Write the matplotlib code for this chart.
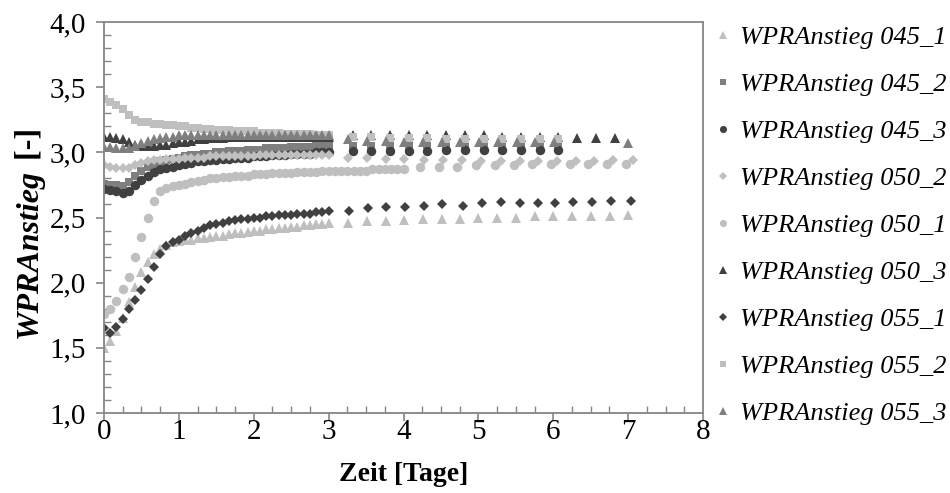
import numpy as np
import matplotlib
matplotlib.use("Agg")
import matplotlib.pyplot as plt
from matplotlib.ticker import MultipleLocator, FuncFormatter

plt.rcParams['font.family'] = ['Liberation Serif', 'DejaVu Serif']

# readings every 2 hours during the first days (converted to days)
hours_dense = np.arange(0, 73, 2)
days_dense = hours_dense / 24.0
hours_dense_long = np.arange(0, 97, 2)
days_dense_long = hours_dense_long / 24.0

# --- 045 series ---
v_045_1_dense = [1.50, 1.55, 1.63, 1.73, 1.85, 1.97, 2.08, 2.16, 2.22, 2.26,
                 2.29, 2.31, 2.32, 2.33, 2.33, 2.34, 2.34, 2.35, 2.36, 2.36,
                 2.37, 2.38, 2.38, 2.39, 2.40, 2.40, 2.41, 2.41, 2.42, 2.42,
                 2.43, 2.43, 2.44, 2.44, 2.45, 2.45, 2.46]
t_045_1_sparse = [3.26, 3.51, 3.76, 4.01, 4.26, 4.51, 4.76, 5.00, 5.25, 5.50,
                  5.76, 6.00, 6.25, 6.50, 6.76, 7.00]
v_045_1_sparse = [2.46, 2.47, 2.47, 2.48, 2.49, 2.49, 2.49, 2.50, 2.50, 2.50,
                  2.51, 2.51, 2.51, 2.51, 2.51, 2.52]

v_045_2_dense = [2.76, 2.75, 2.75, 2.74, 2.77, 2.82, 2.86, 2.89, 2.91, 2.93,
                 2.94, 2.95, 2.96, 2.97, 2.98, 2.98, 2.99, 2.99, 3.00, 3.00,
                 3.01, 3.01, 3.01, 3.02, 3.02, 3.02, 3.03, 3.03, 3.03, 3.03,
                 3.04, 3.04, 3.04, 3.04, 3.05, 3.05, 3.05]
t_045_sparse = [3.32, 3.57, 3.82, 4.07, 4.32, 4.57, 4.82, 5.07, 5.32, 5.57,
                5.82, 6.07]
v_045_2_sparse = [3.05, 3.05, 3.05, 3.05, 3.06, 3.06, 3.06, 3.06, 3.06, 3.06,
                  3.06, 3.06]

v_045_3_dense = [2.72, 2.71, 2.70, 2.69, 2.70, 2.75, 2.79, 2.82, 2.85, 2.87,
                 2.88, 2.89, 2.90, 2.91, 2.92, 2.93, 2.93, 2.94, 2.94, 2.95,
                 2.95, 2.96, 2.96, 2.96, 2.97, 2.97, 2.97, 2.98, 2.98, 2.98,
                 2.99, 2.99, 2.99, 2.99, 3.00, 3.00, 3.00]
v_045_3_sparse = [3.01, 3.01, 3.01, 3.01, 3.01, 3.02, 3.02, 3.02, 3.02, 3.02,
                  3.02, 3.02]

# --- 050 series ---
v_050_2_dense = [2.90, 2.89, 2.88, 2.88, 2.88, 2.90, 2.92, 2.93, 2.94, 2.94,
                 2.95, 2.95, 2.95, 2.96, 2.96, 2.96, 2.96, 2.97, 2.97, 2.97,
                 2.97, 2.97, 2.97, 2.97, 2.97, 2.98, 2.98, 2.98, 2.98, 2.98,
                 2.98, 2.98, 2.98, 2.98, 2.98, 2.98, 2.98]
t_050_2_sparse = [3.26, 3.51, 3.76, 4.01, 4.28, 4.53, 4.78, 5.04, 5.30, 5.55,
                  5.80, 6.05, 6.30, 6.55, 6.80, 7.06]
v_050_2_sparse = [2.96, 2.96, 2.95, 2.95, 2.94, 2.94, 2.94, 2.93, 2.93, 2.93,
                  2.93, 2.93, 2.93, 2.93, 2.94, 2.94]

v_050_1_dense = [1.76, 1.80, 1.86, 1.95, 2.04, 2.20, 2.35, 2.50, 2.63, 2.70,
                 2.73, 2.74, 2.75, 2.76, 2.77, 2.78, 2.79, 2.80, 2.80, 2.81,
                 2.81, 2.82, 2.82, 2.82, 2.83, 2.83, 2.83, 2.84, 2.84, 2.84,
                 2.84, 2.85, 2.85, 2.85, 2.85, 2.86, 2.86, 2.86, 2.86, 2.86,
                 2.86, 2.86, 2.86, 2.87, 2.87, 2.87, 2.87, 2.87, 2.87]
t_050_1_sparse = [4.22, 4.47, 4.72, 4.97, 5.22, 5.47, 5.72, 5.97, 6.22, 6.47,
                  6.72, 6.97]
v_050_1_sparse = [2.89, 2.89, 2.89, 2.90, 2.90, 2.90, 2.91, 2.91, 2.91, 2.91,
                  2.91, 2.91]

v_050_3_dense = [3.12, 3.12, 3.11, 3.10, 3.08, 3.06, 3.05, 3.05, 3.05, 3.06,
                 3.06, 3.07, 3.08, 3.08, 3.09, 3.10, 3.10, 3.11, 3.11, 3.11,
                 3.12, 3.12, 3.12, 3.12, 3.12, 3.12, 3.12, 3.12, 3.12, 3.12,
                 3.12, 3.12, 3.12, 3.12, 3.12, 3.12, 3.12]
t_050_3_sparse = [3.32, 3.57, 3.82, 4.07, 4.32, 4.57, 4.82, 5.07, 5.32, 5.57,
                  5.82, 6.07, 6.32, 6.57, 6.82]
v_050_3_sparse = [3.13, 3.13, 3.13, 3.13, 3.13, 3.13, 3.13, 3.13, 3.12, 3.12,
                  3.12, 3.12, 3.11, 3.11, 3.11]

# --- 055 series ---
v_055_1_dense = [1.65, 1.61, 1.66, 1.72, 1.80, 1.87, 1.94, 2.03, 2.12, 2.22,
                 2.28, 2.31, 2.33, 2.36, 2.38, 2.40, 2.42, 2.44, 2.45, 2.46,
                 2.47, 2.48, 2.49, 2.49, 2.50, 2.50, 2.51, 2.51, 2.52, 2.52,
                 2.52, 2.53, 2.53, 2.53, 2.54, 2.54, 2.55]
t_055_1_sparse = [3.27, 3.52, 3.77, 4.02, 4.27, 4.52, 4.80, 5.05, 5.30, 5.55,
                  5.80, 6.02, 6.27, 6.52, 6.77, 7.04]
v_055_1_sparse = [2.55, 2.57, 2.58, 2.58, 2.59, 2.60, 2.59, 2.61, 2.62, 2.61,
                  2.61, 2.61, 2.62, 2.62, 2.63, 2.63]

v_055_2_dense = [3.41, 3.39, 3.36, 3.33, 3.29, 3.25, 3.23, 3.23, 3.22, 3.22,
                 3.21, 3.21, 3.20, 3.20, 3.19, 3.19, 3.18, 3.18, 3.17, 3.17,
                 3.17, 3.16, 3.16, 3.16, 3.16, 3.15, 3.15, 3.15, 3.15, 3.14,
                 3.14, 3.14, 3.14, 3.14, 3.13, 3.13, 3.13]
v_055_2_sparse = [3.12, 3.12, 3.11, 3.11, 3.11, 3.10, 3.10, 3.10, 3.10, 3.10,
                  3.10, 3.10]

v_055_3_dense = [3.04, 3.04, 3.03, 3.03, 3.03, 3.05, 3.07, 3.09, 3.10, 3.11,
                 3.12, 3.12, 3.13, 3.13, 3.13, 3.13, 3.13, 3.13, 3.13, 3.13,
                 3.13, 3.13, 3.13, 3.13, 3.13, 3.13, 3.13, 3.13, 3.13, 3.13,
                 3.13, 3.13, 3.13, 3.13, 3.13, 3.13, 3.13]
t_055_3_sparse = [3.26, 3.51, 3.76, 4.01, 4.26, 4.51, 4.76, 5.01, 5.26, 5.51,
                  5.76, 6.01, 7.00]
v_055_3_sparse = [3.10, 3.09, 3.09, 3.08, 3.08, 3.08, 3.08, 3.08, 3.08, 3.08,
                  3.08, 3.08, 3.07]

LIGHT, MID, DARK = '#bfbfbf', '#7f7f7f', '#404040'

series = [
    ("WPRAnstieg 045_1", days_dense, v_045_1_dense, t_045_1_sparse, v_045_1_sparse, '^', LIGHT, 6.8),
    ("WPRAnstieg 045_2", days_dense, v_045_2_dense, t_045_sparse, v_045_2_sparse, 's', MID, 5.8),
    ("WPRAnstieg 045_3", days_dense, v_045_3_dense, t_045_sparse, v_045_3_sparse, 'o', DARK, 6.8),
    ("WPRAnstieg 050_2", days_dense, v_050_2_dense, t_050_2_sparse, v_050_2_sparse, 'D', LIGHT, 5.2),
    ("WPRAnstieg 050_1", days_dense_long, v_050_1_dense, t_050_1_sparse, v_050_1_sparse, 'o', LIGHT, 6.8),
    ("WPRAnstieg 050_3", days_dense, v_050_3_dense, t_050_3_sparse, v_050_3_sparse, '^', DARK, 6.8),
    ("WPRAnstieg 055_1", days_dense, v_055_1_dense, t_055_1_sparse, v_055_1_sparse, 'D', DARK, 5.2),
    ("WPRAnstieg 055_2", days_dense, v_055_2_dense, t_045_sparse, v_055_2_sparse, 's', LIGHT, 5.8),
    ("WPRAnstieg 055_3", days_dense, v_055_3_dense, t_055_3_sparse, v_055_3_sparse, '^', MID, 6.8),
]

fig = plt.figure(figsize=(9.5, 4.93), dpi=100)
ax = fig.add_axes([104 / 950, 1 - 413 / 493, 599 / 950, 391 / 493])

for label, td, vd, ts, vs, mk, col, ms in series:
    t = np.concatenate([np.asarray(td, float), np.asarray(ts, float)])
    v = np.concatenate([np.asarray(vd, float), np.asarray(vs, float)])
    ax.plot(t, v, linestyle='none', marker=mk, ms=ms, mfc=col, mec=col,
            mew=0, label=label)

ax.set_xlim(0, 8)
ax.set_ylim(1.0, 4.0)

AX_GRAY = '#868686'
for sp in ax.spines.values():
    sp.set_color(AX_GRAY)
    sp.set_linewidth(1.3)

ax.xaxis.set_major_locator(MultipleLocator(1))
ax.xaxis.set_minor_locator(MultipleLocator(0.25))
ax.yaxis.set_major_locator(MultipleLocator(0.5))
ax.yaxis.set_minor_locator(MultipleLocator(0.1))
ax.yaxis.set_major_formatter(FuncFormatter(lambda y, p: f"{y:.1f}".replace('.', ',')))
ax.xaxis.set_major_formatter(FuncFormatter(lambda x, p: f"{int(round(x))}"))

ax.tick_params(which='major', direction='out', length=6, width=1.2, color=AX_GRAY,
               labelsize=21, labelcolor='black')
ax.tick_params(axis='y', which='major', pad=7)
ax.tick_params(axis='x', which='major', pad=-1.5)
ax.tick_params(which='minor', direction='in', length=5, width=1.0, color=AX_GRAY)

ax.set_xlabel("Zeit [Tage]", fontsize=20, fontweight='bold', labelpad=12)

# y label: bold italic quantity name followed by upright unit
ylab = fig.text(29 / 950, 1 - 253 / 493, "WPRAnstieg", rotation=90, fontsize=23,
                fontweight='bold', fontstyle='italic', ha='center', va='center')
ax.annotate(" [-]", xy=(0.5, 1.0), xycoords=ylab, rotation=90, fontsize=23,
            fontweight='bold', ha='center', va='bottom', annotation_clip=False)

leg = ax.legend(loc='upper left', bbox_to_anchor=(714 / 950, 1 - 26 / 493),
                bbox_transform=fig.transFigure, frameon=False,
                prop={'style': 'italic', 'size': 19}, markerscale=0.75,
                handlelength=0.7, handletextpad=0.3, labelspacing=0.89,
                borderaxespad=0, borderpad=0)

fig.savefig("out.png", dpi=100)
